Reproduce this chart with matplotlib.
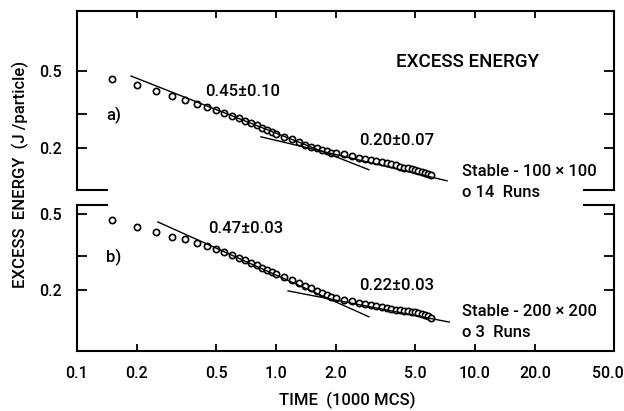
import numpy as np
import matplotlib
matplotlib.use("Agg")
import matplotlib.pyplot as plt
from matplotlib.ticker import FixedLocator, NullLocator
from matplotlib.transforms import ScaledTranslation

plt.rcParams['font.family'] = ['Roboto', 'DejaVu Sans']
plt.rcParams['font.weight'] = 'medium'
plt.rcParams['font.size'] = 11.5

# time in 1000 MCS (same sampling for both runs)
time = [0.15, 0.2, 0.25, 0.3, 0.35, 0.4, 0.45, 0.5, 0.55, 0.6, 0.65, 0.7, 0.75,
        0.8, 0.85, 0.9, 0.95, 1.0, 1.1, 1.2, 1.3, 1.4, 1.5, 1.6, 1.7, 1.8, 1.9,
        2.0, 2.2, 2.4, 2.6, 2.8, 3.0, 3.2, 3.4, 3.6, 3.8, 4.0, 4.2, 4.4, 4.6,
        4.8, 5.0, 5.2, 5.4, 5.6, 5.8, 6.0]

# a) 100 x 100, 14 runs
energy_a = [0.455, 0.423, 0.394, 0.371, 0.354, 0.338, 0.326, 0.314, 0.303, 0.293,
            0.286, 0.276, 0.269, 0.261, 0.254, 0.247, 0.241, 0.236, 0.228, 0.221,
            0.214, 0.208, 0.203, 0.199, 0.195, 0.192, 0.189, 0.187, 0.185, 0.181,
            0.178, 0.175, 0.172, 0.170, 0.168, 0.166, 0.164, 0.162, 0.160, 0.158,
            0.157, 0.155, 0.153, 0.152, 0.150, 0.148, 0.146, 0.144]

# b) 200 x 200, 3 runs
energy_b = [0.465, 0.427, 0.403, 0.379, 0.368, 0.353, 0.338, 0.326, 0.315, 0.305,
            0.295, 0.286, 0.277, 0.269, 0.262, 0.255, 0.249, 0.243, 0.234, 0.225,
            0.217, 0.210, 0.204, 0.198, 0.193, 0.189, 0.185, 0.182, 0.178, 0.175,
            0.172, 0.169, 0.167, 0.165, 0.163, 0.161, 0.160, 0.158, 0.157, 0.156,
            0.155, 0.154, 0.153, 0.152, 0.150, 0.148, 0.146, 0.143]

# fitted power-law lines (end points)
fit_a1_x, fit_a1_y = [0.187, 2.93], [0.47, 0.154]
fit_a2_x, fit_a2_y = [0.84, 7.24], [0.228, 0.135]
fit_b1_x, fit_b1_y = [0.255, 2.93], [0.454, 0.145]
fit_b2_x, fit_b2_y = [1.15, 7.43], [0.198, 0.136]

xticks = [0.1, 0.2, 0.5, 1.0, 2.0, 5.0, 10.0, 20.0, 50.0]
xtick_labels = ['0.1', '0.2', '0.5', '1.0', '2.0', '5.0', '10.0', '20.0', '50.0']
yticks = [0.2, 0.3, 0.5]
ytick_labels = ['0.2', '', '0.5']

W, H = 624, 411
fig = plt.figure(figsize=(W / 100, H / 100), dpi=100)
L, R = 77, 614
ax_a = fig.add_axes([L / W, 1 - 190 / H, (R - L) / W, (190 - 11) / H])
ax_b = fig.add_axes([L / W, 1 - 351 / H, (R - L) / W, (351 - 205) / H])

lw_spine = 1.5
for ax in (ax_a, ax_b):
    ax.set_xscale('log')
    ax.set_yscale('log')
    ax.set_xlim(0.1, 50)
    for s in ax.spines.values():
        s.set_linewidth(lw_spine)
    ax.xaxis.set_major_locator(FixedLocator(xticks))
    ax.xaxis.set_minor_locator(NullLocator())
    ax.yaxis.set_major_locator(FixedLocator(yticks))
    ax.yaxis.set_minor_locator(NullLocator())
    ax.set_yticklabels(ytick_labels)
    ax.tick_params(axis='y', which='major', direction='in', length=7, width=1.3,
                   left=True, right=True, pad=11, labelsize=11.5)
    ax.tick_params(axis='x', which='major', direction='in', length=5, width=1.3,
                   pad=11, labelsize=11.5)

ax_a.set_ylim(0.121, 1.02)
ax_b.set_ylim(0.096, 0.557)

# broken axis: only short stubs where the panels meet
ax_a.spines['bottom'].set_visible(False)
ax_b.spines['top'].set_visible(False)
stub = 30 / (R - L)
for ax, yy in ((ax_a, 0), (ax_b, 1)):
    for x0, x1 in ((0, stub), (1 - stub, 1)):
        ax.plot([x0, x1], [yy, yy], color='black', lw=lw_spine, transform=ax.transAxes,
                clip_on=False, solid_capstyle='projecting')

ax_a.tick_params(axis='x', top=True, bottom=False, labelbottom=False)
ax_b.tick_params(axis='x', top=False, bottom=True)
ax_b.set_xticklabels(xtick_labels)
# last label sits a bit left so it stays inside the figure
last = ax_b.get_xticklabels()[-1]
last.set_transform(last.get_transform() + ScaledTranslation(-6 / 100, 0, fig.dpi_scale_trans))

mk = dict(marker='o', ms=4.5, mfc='white', mec='black', mew=1.2, ls='none')
ax_a.plot(time, energy_a, **mk)
ax_b.plot(time, energy_b, **mk)

for ax, fx, fy in ((ax_a, fit_a1_x, fit_a1_y), (ax_a, fit_a2_x, fit_a2_y),
                   (ax_b, fit_b1_x, fit_b1_y), (ax_b, fit_b2_x, fit_b2_y)):
    ax.plot(fx, fy, color='black', lw=1.0)

def ftext(x, y, s, **kw):
    fig.text(x / W, 1 - y / H, s, **kw)

ftext(468, 62, 'EXCESS ENERGY', ha='center', va='center', fontsize=13.5)
ftext(243, 91, '0.45±0.10', ha='center', va='center', fontsize=12)
ftext(114, 115, 'a)', ha='center', va='center', fontsize=12)
ftext(397, 140, '0.20±0.07', ha='center', va='center', fontsize=12)
ftext(462, 172, 'Stable - 100 × 100', ha='left', va='center', fontsize=12)
ftext(462, 192, 'o 14  Runs', ha='left', va='center', fontsize=12)
ftext(246, 228, '0.47±0.03', ha='center', va='center', fontsize=12)
ftext(114, 257, 'b)', ha='center', va='center', fontsize=12)
ftext(397, 285, '0.22±0.03', ha='center', va='center', fontsize=12)
ftext(462, 311, 'Stable - 200 × 200', ha='left', va='center', fontsize=12)
ftext(462, 332, 'o 3  Runs', ha='left', va='center', fontsize=12)

ftext(347, 400, 'TIME  (1000 MCS)', ha='center', va='center', fontsize=12)
ftext(20, 174, 'EXCESS  ENERGY  (J /particle)', ha='center', va='center',
      rotation=90, fontsize=12)

fig.savefig('out.png', dpi=100)
